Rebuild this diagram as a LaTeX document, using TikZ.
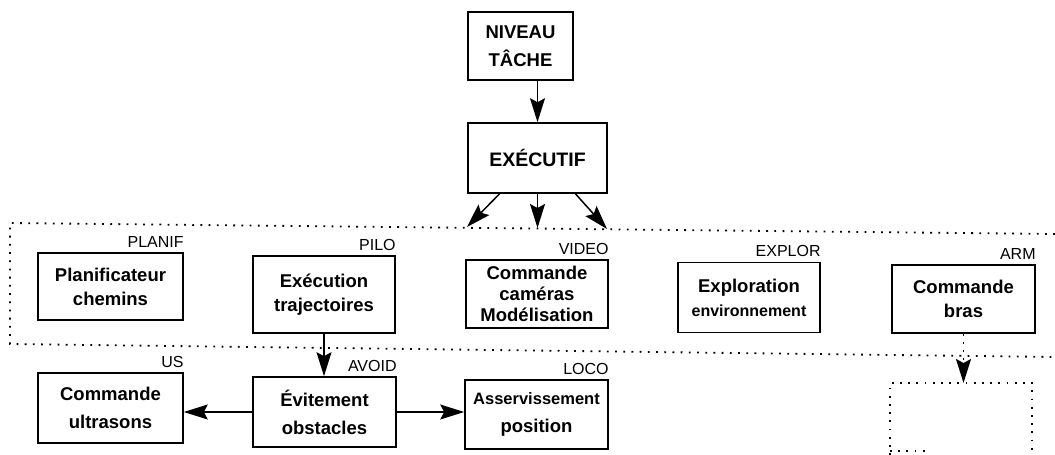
\documentclass[tikz,border=0pt]{standalone}
\usepackage{fontspec}
\setmainfont{Liberation Sans}
\usetikzlibrary{arrows.meta,calc}
\begin{document}
\begin{tikzpicture}[x=1pt,y=-1pt,
  box/.style={draw,line width=1.6pt,inner sep=0pt,align=center,
    font=\bfseries\fontsize{18.5}{24}\selectfont},
  wide/.style={font=\bfseries\fontsize{18.5}{28}\selectfont},
  tag/.style={font=\fontsize{16}{16}\selectfont,anchor=base east,inner sep=0pt},
  head/.style={-{Stealth[length=24pt,width=15pt,inset=4pt]}},
  arr/.style={line width=1.5pt,head},
  dots/.style={line width=1.8pt,dash pattern=on 1.8pt off 6.4pt}
]
\useasboundingbox (0,0) rectangle (1055,455);

% task level and executive
\node[box,wide,minimum width=105pt,minimum height=68pt] (nt) at (520.5,46) {NIVEAU\\TÂCHE};
\node[box,font=\bfseries\fontsize{19.5}{24}\selectfont,minimum width=139pt,minimum height=70pt] (exec) at (537.5,158) {EXÉCUTIF};

% functional layer modules
\node[box,minimum width=145pt,minimum height=67pt] (planif) at (110.5,286.5) {Planificateur\\chemins};
\node[box,minimum width=142pt,minimum height=77pt] (pilo) at (324,294.5) {Exécution\\trajectoires};
\node[box,font=\bfseries\fontsize{18.5}{21}\selectfont,minimum width=142pt,minimum height=68pt] (video) at (537,294) {Commande\\caméras\\Modélisation};
\node[box,minimum width=142pt,minimum height=70pt] (explor) at (749,297.5) {Exploration\\{\fontsize{16}{24}\selectfont environnement}};
\node[box,minimum width=143pt,minimum height=68pt] (arm) at (963.5,299) {Commande\\bras};

% lower modules
\node[box,wide,minimum width=145pt,minimum height=70pt] (us) at (110.5,408) {Commande\\ultrasons};
\node[box,wide,minimum width=143pt,minimum height=70pt] (avoid) at (324.5,412) {Évitement\\obstacles};
\node[box,wide,minimum width=143pt,minimum height=69pt] (loco) at (536.5,414.5) {{\fontsize{16.5}{28}\selectfont Asservissement}\\position};

% module names
\foreach \n/\t in {planif/PLANIF,pilo/PILO,video/VIDEO,explor/EXPLOR,arm/ARM,us/US,avoid/AVOID,loco/LOCO}
  \node[tag] (t\n) at ([yshift=5pt]\n.north east) {\t};

% dotted frame of the functional layer
\coordinate (ftr) at (1055,234);
\coordinate (ftl) at (10,223);
\coordinate (fbl) at (10,344);
\coordinate (fbr) at (1055,357);
\draw[dots] (ftr) -- (ftl) -- (fbl) -- (fbr);

% open dotted box below the arm module
\coordinate (sp) at (961,383);
\draw[dots] (890,455) -- (890,383) -- (1032,383) -- (1032,455);
\draw[dots] (890,451) -- (930,451);

% connections
\coordinate (ea) at (467,227);
\coordinate (eb) at (537.5,228);
\coordinate (ec) at (607,229);
\draw[arr] (exec.north |- nt.south) -- (exec.north);
\draw[arr] ($(exec.south west)!0.23!(exec.south east)$) -- (ea);
\draw[arr] (exec.south) -- (eb);
\draw[arr] ($(exec.south west)!0.77!(exec.south east)$) -- (ec);
\draw[arr] (pilo.south) -- (pilo.south |- avoid.north);
\draw[arr] (avoid.west) -- (avoid.west -| us.east);
\draw[arr] (avoid.east) -- (avoid.east -| loco.west);
\draw[dots,head] (arm.south) -- (arm.south |- sp);
\end{tikzpicture}
\end{document}
